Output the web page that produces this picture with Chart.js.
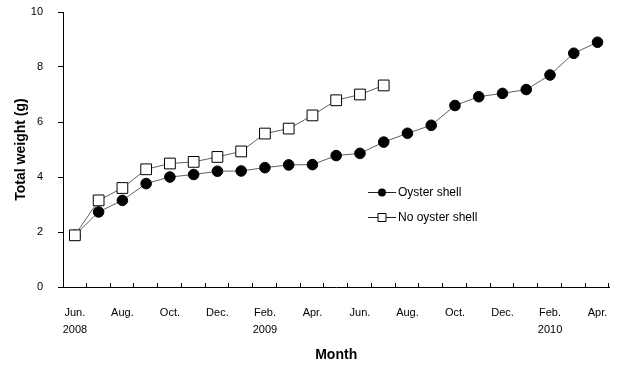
<!DOCTYPE html>
<html>
<head>
<meta charset="utf-8">
<script src="https://cdn.jsdelivr.net/npm/chart.js@4/dist/chart.umd.min.js"></script>
<style>
  html, body { margin: 0; padding: 0; background: #fff; }
  canvas { display: block; }
</style>
</head>
<body>
<canvas id="chart" width="618" height="368"></canvas>
<script>
// Monthly sampling, June 2008 through April 2010
const months = ['Jun.', 'Jul.', 'Aug.', 'Sep.', 'Oct.', 'Nov.', 'Dec.', 'Jan.', 'Feb.', 'Mar.', 'Apr.', 'May',
                'Jun.', 'Jul.', 'Aug.', 'Sep.', 'Oct.', 'Nov.', 'Dec.', 'Jan.', 'Feb.', 'Mar.', 'Apr.'];
const years = ['2008', '', '', '', '', '', '', '', '2009', '', '', '', '', '', '', '', '', '', '', '', '2010', '', ''];

// Total weight (g)
const oysterShell = [1.88, 2.73, 3.15, 3.76, 4.0, 4.09, 4.21, 4.22, 4.34, 4.44, 4.45, 4.78,
                     4.86, 5.27, 5.59, 5.88, 6.6, 6.92, 7.04, 7.18, 7.71, 8.5, 8.9];
const noOysterShell = [1.88, 3.15, 3.6, 4.28, 4.49, 4.55, 4.73, 4.93, 5.58, 5.76, 6.24, 6.79,
                       7.0, 7.33, null, null, null, null, null, null, null, null, null];

const yTicks = [0, 2, 4, 6, 8, 10];

const FONT = '"Liberation Sans", Arial, sans-serif';

// Small upward tick marks between the months on the x axis
const innerTicks = {
  id: 'innerTicks',
  afterDraw(chart) {
    const x = chart.scales.x;
    const ctx = chart.ctx;
    const half = (x.getPixelForValue(1) - x.getPixelForValue(0)) / 2;
    const y0 = chart.chartArea.bottom;
    ctx.save();
    ctx.strokeStyle = '#000';
    ctx.lineWidth = 1;
    ctx.beginPath();
    for (let i = 0; i < months.length; i++) {
      const px = Math.round(x.getPixelForValue(i) + half) - 0.5;
      ctx.moveTo(px, y0);
      ctx.lineTo(px, y0 - 4);
    }
    ctx.stroke();
    ctx.restore();
  }
};

// Legend drawn inside the plot area
const insideLegend = {
  id: 'insideLegend',
  afterDraw(chart, args, opts) {
    const ctx = chart.ctx;
    ctx.save();
    ctx.font = '12px ' + FONT;
    ctx.textBaseline = 'middle';
    ctx.textAlign = 'left';
    opts.items.forEach((it, k) => {
      const y = opts.y + k * opts.gap;
      ctx.strokeStyle = '#222';
      ctx.lineWidth = 1;
      ctx.beginPath();
      ctx.moveTo(opts.x, y + 0.5);
      ctx.lineTo(opts.x + opts.len, y + 0.5);
      ctx.stroke();
      const cx = opts.x + opts.len / 2;
      ctx.beginPath();
      if (it.style === 'circle') {
        ctx.fillStyle = '#000';
        ctx.arc(cx, y + 0.5, 4, 0, Math.PI * 2);
        ctx.fill();
      } else {
        ctx.fillStyle = '#fff';
        ctx.rect(cx - 4, y - 3.5, 8, 8);
        ctx.fill();
        ctx.strokeStyle = '#000';
        ctx.stroke();
      }
      ctx.fillStyle = '#000';
      ctx.fillText(it.text, opts.x + opts.len + 2, y + 1);
    });
    ctx.restore();
  }
};

new Chart(document.getElementById('chart'), {
  type: 'line',
  data: {
    labels: months,
    datasets: [
      {
        label: 'Oyster shell',
        data: oysterShell,
        order: 1,
        borderColor: '#606060',
        borderWidth: 1,
        pointStyle: 'circle',
        pointRadius: 5.3,
        pointBackgroundColor: '#000',
        pointBorderColor: '#000',
        pointBorderWidth: 1,
        tension: 0,
        spanGaps: false
      },
      {
        label: 'No oyster shell',
        data: noOysterShell,
        order: 0,
        borderColor: '#606060',
        borderWidth: 1,
        pointStyle: 'rect',
        pointRadius: 7.6,
        pointBackgroundColor: '#fff',
        pointBorderColor: '#000',
        pointBorderWidth: 1,
        tension: 0,
        spanGaps: false
      }
    ]
  },
  options: {
    responsive: false,
    animation: false,
    events: [],
    layout: { padding: { top: 12, right: 8, bottom: 0, left: 0 } },
    plugins: {
      legend: { display: false },
      tooltip: { enabled: false },
      insideLegend: {
        x: 368, y: 192, gap: 25, len: 28,
        items: [
          { text: 'Oyster shell', style: 'circle' },
          { text: 'No oyster shell', style: 'rect' }
        ]
      }
    },
    scales: {
      x: {
        type: 'category',
        offset: true,
        grid: { display: true, offset: true, drawOnChartArea: false, drawTicks: false, color: '#000' },
        border: { display: true, color: '#000', width: 1 },
        ticks: {
          autoSkip: false,
          maxRotation: 0,
          minRotation: 0,
          padding: 17,
          color: '#000',
          font: { family: FONT, size: 11, lineHeight: 1.55 },
          callback: (value, index) => index % 2 ? '' : [months[index], years[index]]
        },
        title: {
          display: true,
          text: 'Month',
          color: '#000',
          font: { family: FONT, size: 14, weight: 'bold' },
          padding: { top: 0, bottom: 4 }
        },
        afterFit(scale) {
          scale.height = 81;
          scale.paddingLeft = 0;
          scale.paddingRight = 0;
        }
      },
      y: {
        min: 0,
        max: 10,
        afterBuildTicks(scale) { scale.ticks = yTicks.map(v => ({ value: v })); },
        grid: { display: true, drawOnChartArea: false, drawTicks: true, tickLength: 5, color: '#000' },
        border: { display: true, color: '#000', width: 1 },
        ticks: {
          padding: 15,
          color: '#000',
          font: { family: FONT, size: 11 }
        },
        title: {
          display: true,
          text: 'Total weight (g)',
          color: '#000',
          font: { family: FONT, size: 14, weight: 'bold' },
          padding: { top: 13, bottom: 0 }
        },
        afterFit(scale) {
          scale.width = 63;
          scale.paddingTop = 0;
          scale.paddingBottom = 0;
        }
      }
    }
  },
  plugins: [innerTicks, insideLegend]
});
</script>
</body>
</html>
